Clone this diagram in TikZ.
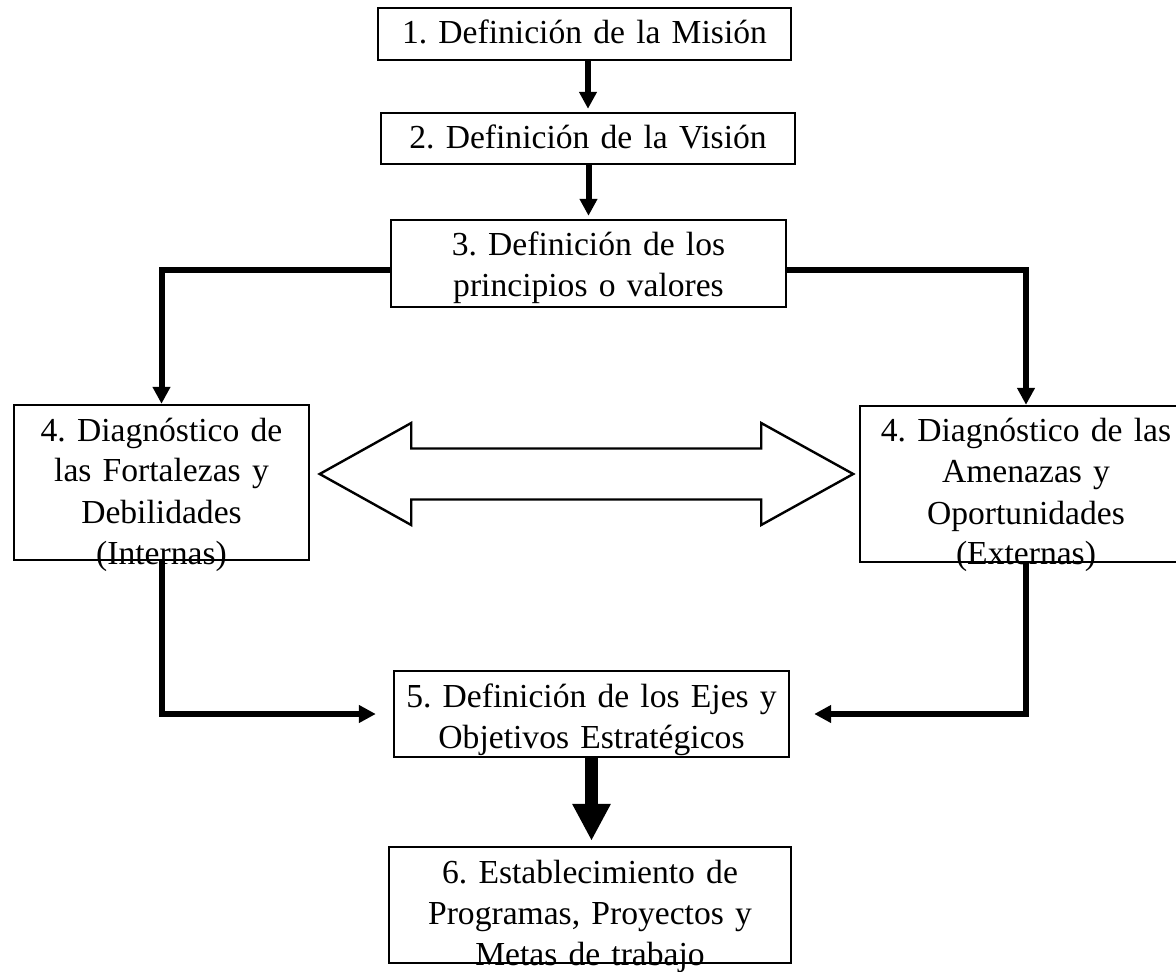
\documentclass[tikz,border=0pt]{standalone}
\usepackage{fontspec}
\setmainfont{Liberation Serif}
\usetikzlibrary{arrows.meta,positioning,calc}
\frenchspacing

\begin{document}
\begin{tikzpicture}[x=0.5pt,y=-0.5pt,
  phase/.style={draw=black,line width=1.2pt,fill=white,align=center,inner sep=0pt,
    font=\fontsize{16.8}{20.5}\selectfont,text height=18pt},
  link/.style={-{Triangle[width=8.5pt,length=8.5pt]},line width=3pt},
  wide/.style={-{Triangle[width=18pt,length=18.5pt]},line width=6.5pt},
  hollow/.style={draw=black,line width=1.2pt,fill=white,line join=miter}]
\useasboundingbox (0,0) rectangle (1176,972);
% Mission, vision and values
\node[phase,text width=206.5pt,text depth=8pt] (mision) at (584.5,34) {1. Definición de la Misión};
\node[phase,text width=207pt,text depth=7.5pt] (vision) at (588,138.5) {2. Definición de la Visión};
\node[phase,text width=197.5pt,text depth=25.5pt] (valores) at (588.5,263.5) {3. Definición de los\\principios o valores};
\draw[link,shorten >=1.5pt] (vision.north |- mision.south) -- (vision.north);
\draw[link,shorten >=1.5pt] (valores.north |- vision.south) -- (valores.north);
% Diagnosis
\node[phase,text width=147.5pt,text depth=59.5pt] (internas) at (161.5,482.5) {4. Diagnóstico de\\las Fortalezas y\\Debilidades\\(Internas)};
\node[phase,text width=166pt,text depth=60pt] (externas) at (1026,484) {4. Diagnóstico de las\\Amenazas y\\Oportunidades\\(Externas)};
\draw[link] ([yshift=-3.25pt]valores.west) -| (internas.north);
\draw[link] ([yshift=-3.25pt]valores.east) -| (externas.north);
\draw[hollow] ([shift={(9.5,-8.5)}]internas.east) coordinate (tip) -- ++(91.5,-51) -- ++(0,25.5) -- ++(350,0) -- ++(0,-25.5)
  -- ++(92,51) -- ++(-92,51) -- ++(0,-25.5) -- ++(-350,0) -- ++(0,25.5) -- cycle;
% Strategy and programmes
\node[phase,text width=197.5pt,text depth=25pt] (ejes) at (591.5,714) {5. Definición de los Ejes y\\Objetivos Estratégicos};
\node[phase,text width=201pt,text depth=40pt] (programas) at (590,905) {6. Establecimiento de\\Programas, Proyectos y\\Metas de trabajo};
\draw[link,shorten >=8.5pt] (internas.south) |- (ejes.west);
\draw[link,shorten >=12pt] (externas.south) |- (ejes.east);
\draw[wide,shorten >=2.5pt] (ejes.south) -- (ejes.south |- programas.north);
\end{tikzpicture}
\end{document}
